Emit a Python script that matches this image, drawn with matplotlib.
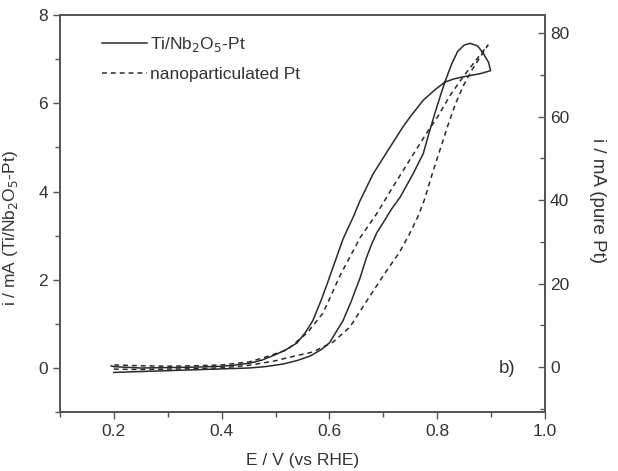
import matplotlib
matplotlib.use("Agg")
import matplotlib.pyplot as plt
from matplotlib.ticker import MultipleLocator

plt.rcParams['font.family'] = ['Liberation Sans', 'DejaVu Sans']

# Ti/Nb2O5-Pt (left axis, mA) - forward scan
ti_fwd_E = [0.20, 0.25, 0.30, 0.35, 0.40, 0.45, 0.48, 0.514, 0.54, 0.564, 0.585, 0.60, 0.625,
            0.64, 0.657, 0.668, 0.678, 0.688, 0.70, 0.715, 0.731, 0.755, 0.774, 0.786, 0.795,
            0.805, 0.814, 0.827, 0.838, 0.85, 0.861, 0.875, 0.885, 0.895, 0.899]
ti_fwd_i = [-0.10, -0.08, -0.06, -0.04, -0.02, 0.0, 0.03, 0.09, 0.17, 0.27, 0.42, 0.57, 1.07,
            1.5, 2.05, 2.48, 2.8, 3.07, 3.3, 3.6, 3.87, 4.4, 4.86, 5.38, 5.75,
            6.14, 6.48, 6.9, 7.18, 7.32, 7.36, 7.3, 7.14, 6.93, 6.74]
# Ti/Nb2O5-Pt - backward scan
ti_bwd_E = [0.899, 0.879, 0.848, 0.83, 0.814, 0.795, 0.774, 0.749, 0.736, 0.712, 0.681, 0.657,
            0.644, 0.625, 0.61, 0.597, 0.585, 0.569, 0.555, 0.54, 0.52, 0.503, 0.475, 0.452,
            0.42, 0.40, 0.35, 0.30, 0.25, 0.20, 0.195]
ti_bwd_i = [6.74, 6.67, 6.6, 6.55, 6.48, 6.3, 6.07, 5.68, 5.46, 5.0, 4.4, 3.8,
            3.42, 2.92, 2.4, 1.95, 1.55, 1.07, 0.8, 0.57, 0.42, 0.32, 0.18, 0.11,
            0.06, 0.04, 0.02, 0.01, 0.0, 0.03, 0.05]

# nanoparticulated Pt (right axis, mA) - forward scan
pt_fwd_E = [0.20, 0.25, 0.30, 0.35, 0.40, 0.45, 0.50, 0.521, 0.569, 0.607, 0.638, 0.67, 0.703,
            0.73, 0.749, 0.764, 0.776, 0.79, 0.805, 0.82, 0.833, 0.848, 0.865, 0.88, 0.894]
pt_fwd_i = [-0.5, -0.6, -0.5, -0.4, -0.2, 0.4, 1.5, 2.2, 3.6, 6.0, 9.6, 16.0, 22.5,
            27.5, 32.0, 36.0, 40.0, 46.0, 52.0, 58.0, 62.8, 67.3, 71.3, 74.3, 77.1]
# nanoparticulated Pt - backward scan
pt_bwd_E = [0.894, 0.879, 0.848, 0.824, 0.801, 0.78, 0.749, 0.718, 0.688, 0.657, 0.62, 0.588,
            0.558, 0.521, 0.477, 0.45, 0.40, 0.35, 0.30, 0.25, 0.20]
pt_bwd_i = [77.1, 74.7, 69.5, 65.1, 60.0, 56.0, 49.6, 43.2, 36.8, 31.0, 22.0, 12.9,
            8.1, 4.1, 2.2, 1.2, 0.5, 0.3, 0.2, 0.3, 0.5]

ti_E = ti_fwd_E + ti_bwd_E
ti_i = ti_fwd_i + ti_bwd_i
pt_E = pt_fwd_E + pt_bwd_E
pt_i = pt_fwd_i + pt_bwd_i

line_c = '#2a2a2a'
spine_c = '#555555'
text_c = '#333333'
fs = 12.5

fig = plt.figure(figsize=(6.18, 4.71), dpi=100)
ax = fig.add_axes([0.097, 0.125, 0.785, 0.843])
ax2 = ax.twinx()

l1, = ax.plot(ti_E, ti_i, color=line_c, lw=1.1, label='Ti/Nb$_2$O$_5$-Pt')
l2, = ax2.plot(pt_E, pt_i, color=line_c, lw=1.1, linestyle=(0, (3.2, 2.6)),
               label='nanoparticulated Pt')

ax.set_xlim(0.1, 1.0)
ax.set_ylim(-1, 8)
ax2.set_ylim(-10.8, 84.3)

ax.xaxis.set_major_locator(MultipleLocator(0.2))
ax.xaxis.set_minor_locator(MultipleLocator(0.1))
ax.yaxis.set_major_locator(MultipleLocator(2))
ax.yaxis.set_minor_locator(MultipleLocator(1))
ax2.yaxis.set_major_locator(MultipleLocator(20))
ax2.yaxis.set_minor_locator(MultipleLocator(10))

ax.tick_params(axis='both', which='both', direction='out', colors=spine_c,
               labelcolor=text_c, labelsize=fs, top=False, right=False)
ax.tick_params(which='major', length=5, width=1)
ax.tick_params(which='minor', length=3.5, width=1)
ax2.tick_params(axis='y', which='both', direction='in', colors=spine_c,
                labelcolor=text_c, labelsize=fs)
ax2.tick_params(which='major', length=5, width=1)
ax2.tick_params(which='minor', length=3.5, width=1)

ax.set_xticks([0.2, 0.4, 0.6, 0.8, 1.0])
ax.set_xticklabels(['0.2', '0.4', '0.6', '0.8', '1.0'])
ax.set_yticks([0, 2, 4, 6, 8])
ax2.set_yticks([0, 20, 40, 60, 80])

for a in (ax, ax2):
    for s in a.spines.values():
        s.set_color(spine_c)
        s.set_linewidth(1.3)

ax.set_xlabel('E / V (vs RHE)', fontsize=fs, color=text_c, labelpad=10)
ax.set_ylabel('i / mA (Ti/Nb$_2$O$_5$-Pt)', fontsize=fs, color=text_c)
ax.yaxis.set_label_coords(-0.082, 0.463)
ax2.set_ylabel('i / mA (pure Pt)', fontsize=fs + 1, color=text_c, rotation=270)
ax2.yaxis.set_label_coords(1.125, 0.534)

ax.text(0.93, 0.0, 'b)', fontsize=fs + 1, color=text_c, ha='center', va='center')

leg = ax.legend(handles=[l1, l2], loc='upper left', frameon=False, fontsize=fs,
                handlelength=2.6, handletextpad=0.2, labelspacing=0.75,
                bbox_to_anchor=(0.054, 0.99))
for t in leg.get_texts():
    t.set_color(text_c)

fig.savefig('out.png', dpi=100)
